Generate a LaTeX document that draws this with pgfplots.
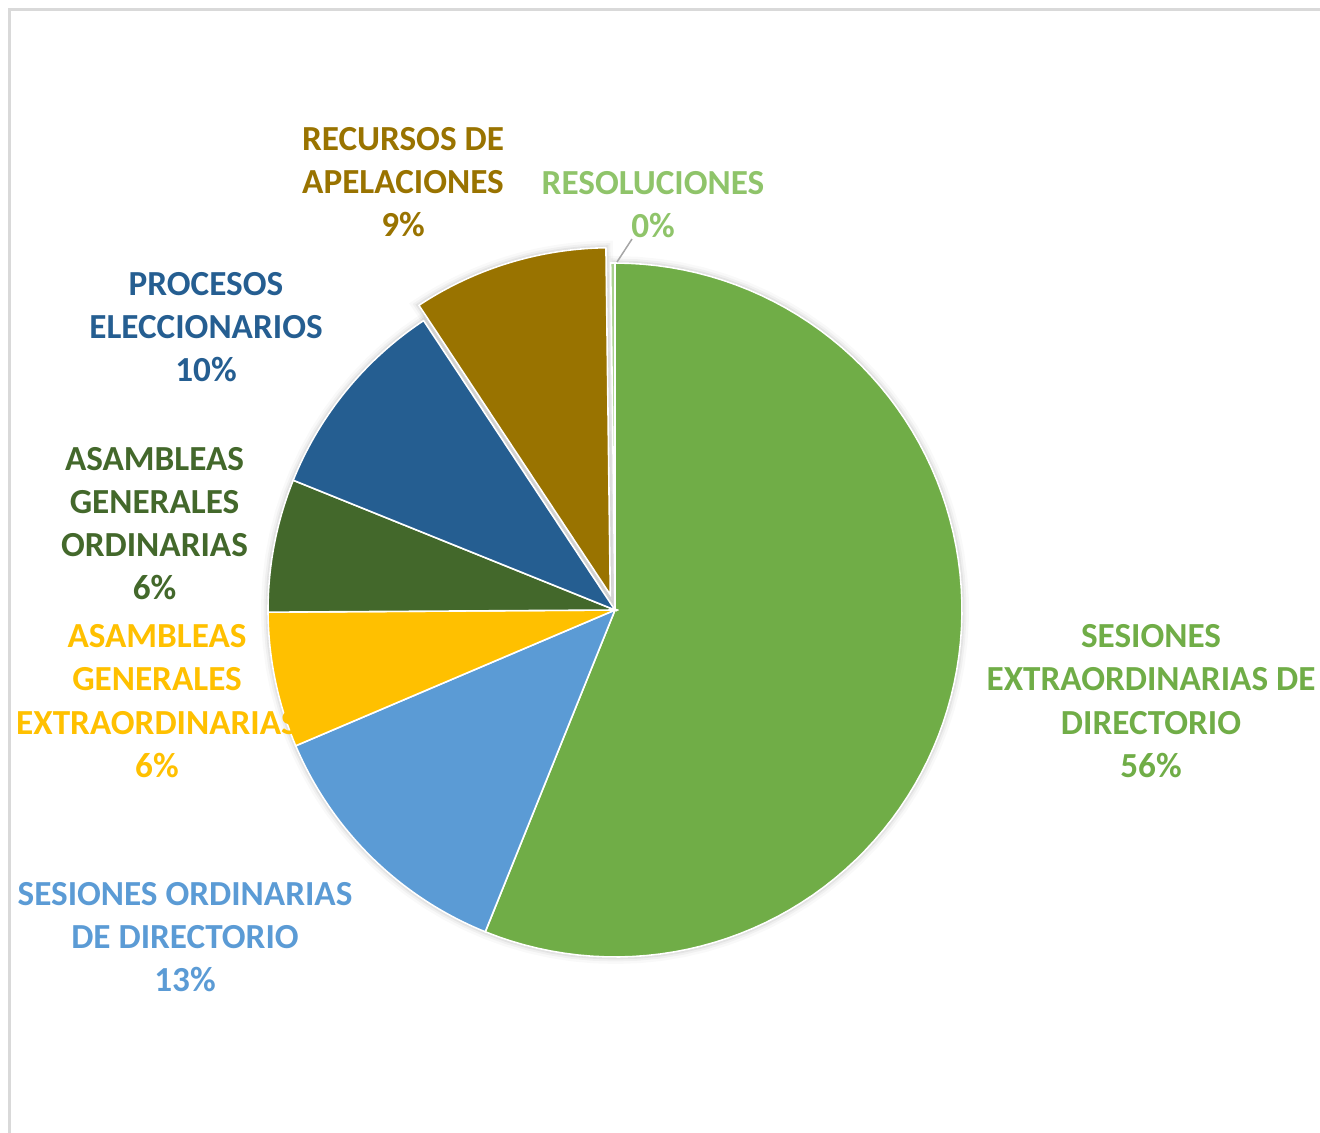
\documentclass[border=0pt]{standalone}
\usepackage{pgfplots}
\pgfplotsset{compat=1.18}
\usepackage{fontspec}
\setmainfont{Carlito}
\definecolor{cA}{HTML}{70AD47}
\definecolor{cB}{HTML}{5B9BD5}
\definecolor{cC}{HTML}{FFC000}
\definecolor{cD}{HTML}{43682B}
\definecolor{cE}{HTML}{255E91}
\definecolor{cF}{HTML}{997300}
\definecolor{cG}{HTML}{A9D18E}
\definecolor{cGt}{HTML}{8FC46A}
% shares (percent), clockwise from 12 o'clock
\def\vA{56.1} % Sesiones extraordinarias de directorio
\def\vB{12.5} % Sesiones ordinarias de directorio
\def\vC{6.3}  % Asambleas generales extraordinarias
\def\vD{6.2}  % Asambleas generales ordinarias
\def\vE{9.6}  % Procesos eleccionarios
\def\vF{9.1}  % Recursos de apelaciones
\def\vG{0.2}  % Resoluciones
\pgfmathsetmacro\aA{0}
\pgfmathsetmacro\aB{\aA+3.6*\vA}
\pgfmathsetmacro\aC{\aB+3.6*\vB}
\pgfmathsetmacro\aD{\aC+3.6*\vC}
\pgfmathsetmacro\aE{\aD+3.6*\vD}
\pgfmathsetmacro\aF{\aE+3.6*\vE}
\pgfmathsetmacro\aG{\aF+3.6*\vF}
\pgfmathsetmacro\aH{\aG+3.6*\vG}
% explosion of slice F
\pgfmathsetmacro\mF{(\aF+\aG)/2}
\pgfmathsetmacro\dxF{16*sin(\mF)}
\pgfmathsetmacro\dyF{-16*cos(\mF)}
\newcommand\slice[5]{%
 \addplot[fill=#1, draw=white, line width=0.8bp, domain=#2:#3, samples=90, variable=\t]
  ({615+#4+347*sin(t)}, {610+#5-347*cos(t)}) -- (axis cs:{615+#4},{610+#5}) -- cycle;}
\newcommand\halo[6]{%
 \addplot[fill=none, draw=black, draw opacity=#6, line width=#1, domain=#2:#3, samples=90, variable=\t]
  ({615+#4+347*sin(t)}, {610+#5-347*cos(t)}) -- (axis cs:{615+#4},{610+#5}) -- cycle;}
\tikzset{lab/.style={align=center, font=\bfseries\fontsize{17.6bp}{21.6bp}\selectfont, inner sep=0pt}}
\begin{document}
\begin{tikzpicture}
\begin{axis}[name=ax, scale only axis, width=660bp, height=566.5bp,
  xmin=0, xmax=1320, ymin=0, ymax=1133, y dir=reverse, hide axis, clip=false]
% frame
\draw[color=black!15, line width=1.5bp] (axis cs:9,1133) -- (axis cs:9,9) -- (axis cs:1320,9);
% soft shadow
\halo{7bp}{\aA}{\aF}{0}{0}{0.025}
\halo{7bp}{\aF}{\aG}{\dxF}{\dyF}{0.025}
\halo{4.5bp}{\aA}{\aF}{0}{0}{0.035}
\halo{4.5bp}{\aF}{\aG}{\dxF}{\dyF}{0.035}
\halo{2.5bp}{\aA}{\aF}{0}{0}{0.05}
\halo{2.5bp}{\aF}{\aG}{\dxF}{\dyF}{0.05}
\halo{1bp}{\aA}{\aF}{0}{0}{0.08}
\halo{1bp}{\aF}{\aG}{\dxF}{\dyF}{0.08}
% slices
\slice{cA}{\aA}{\aB}{0}{0}
\slice{cB}{\aB}{\aC}{0}{0}
\slice{cC}{\aC}{\aD}{0}{0}
\slice{cD}{\aD}{\aE}{0}{0}
\slice{cE}{\aE}{\aF}{0}{0}
\slice{cF}{\aF}{\aG}{\dxF}{\dyF}
\slice{cG}{\aG}{\aH}{0}{0}
% leader line
\draw[color=black!35, line width=0.75bp] (axis cs:617,262) -- (axis cs:632,239);
% labels
\node[lab, text=cF] at (axis cs:403,182) {RECURSOS DE\\APELACIONES\\9\%};
\node[lab, text=cGt] at (axis cs:653,204.5) {RESOLUCIONES\\0\%};
\node[lab, text=cE] at (axis cs:206,327) {PROCESOS\\ELECCIONARIOS\\10\%};
\node[lab, text=cD] at (axis cs:154.5,523.5) {ASAMBLEAS\\GENERALES\\ORDINARIAS\\6\%};
\node[lab, text=cC] at (axis cs:157,701) {ASAMBLEAS\\GENERALES\\EXTRAORDINARIAS\\6\%};
\node[lab, text=cB] at (axis cs:185,937) {SESIONES ORDINARIAS\\DE DIRECTORIO\\13\%};
\node[lab, text=cA] at (axis cs:1151,701) {SESIONES\\EXTRAORDINARIAS DE\\DIRECTORIO\\56\%};
\end{axis}
\pgfresetboundingbox
\path (ax.south west) rectangle (ax.north east);
\end{tikzpicture}
\end{document}
